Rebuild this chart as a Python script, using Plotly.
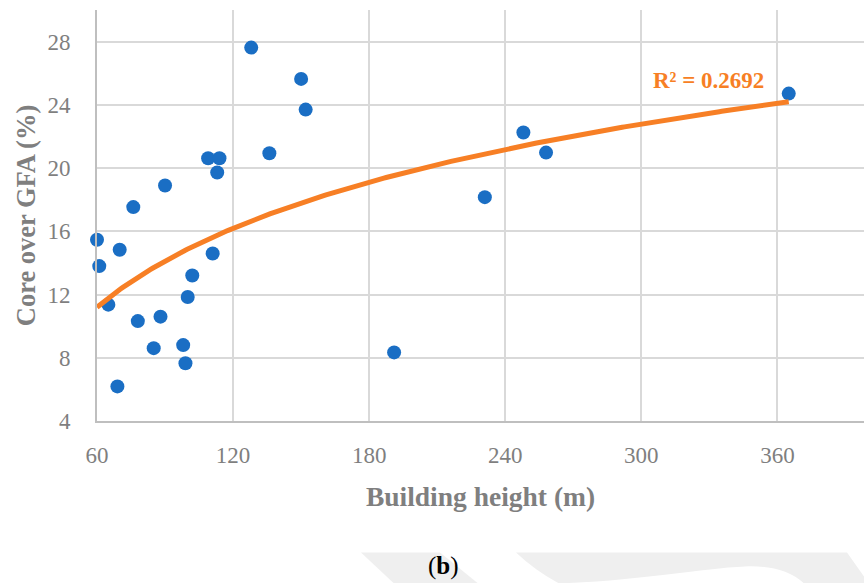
import numpy as np
import plotly.graph_objects as go

# Data
building_height_m = [60, 61, 65, 70, 76, 69, 78, 85, 88, 90, 98, 99, 100, 102,
                     109, 114, 113, 111, 128, 136, 150, 152, 191, 231, 248, 258, 365]
core_over_gfa_pct = [15.47, 13.8, 11.36, 14.83, 17.53, 6.19, 10.32, 8.61, 10.6, 18.9,
                     8.8, 7.65, 11.84, 13.2, 20.62, 20.62, 19.72, 14.6, 27.62, 20.94,
                     25.64, 23.7, 8.34, 18.16, 22.25, 20.98, 24.71]
x_ticks = [60, 120, 180, 240, 300, 360]
y_ticks = [4, 8, 12, 16, 20, 24, 28]
r2_label = "R² = 0.2692"
# logarithmic trendline y = a*ln(x) + b
trend_a = 7.2
trend_b = -18.28

x = np.array(building_height_m, dtype=float)
xt = np.linspace(x.min(), x.max(), 300)
yt = trend_a * np.log(xt) + trend_b

BLUE = "#1a6ec4"
ORANGE = "#f77f25"
GRAY = "#7f7f7f"
FONT = "Liberation Serif"

# plot-area pixel geometry
L, R, T, B = 97, 864, 10, 420.7
def px(p):
    return (p - L) / (R - L)
def py(p):
    return (B - p) / (B - T)

fig = go.Figure()
fig.add_trace(go.Scatter(x=building_height_m, y=core_over_gfa_pct, mode="markers",
                         marker=dict(size=14, color=BLUE), showlegend=False,
                         cliponaxis=False))
fig.add_trace(go.Scatter(x=xt, y=yt, mode="lines",
                         line=dict(color=ORANGE, width=5), showlegend=False))

fig.add_annotation(x=329.8, y=25.53, xref="x", yref="y", text="<b>%s</b>" % r2_label,
                   showarrow=False, font=dict(family=FONT, size=23, color=ORANGE))

fig.add_annotation(x=px(443), y=py(566), xref="paper", yref="paper", text="(<b>b</b>)",
                   xanchor="center", yanchor="middle",
                   showarrow=False, font=dict(family=FONT, size=25, color="black"))

# MDPI-like watermark shapes (decorative)
WT = 552
left_band = "M %f,%f L %f,%f L %f,%f L %f,%f Z" % (
    px(361), py(WT), px(440), py(WT), px(478), py(583), px(394), py(583))
right_shape = ("M %f,%f L %f,%f L %f,%f L %f,%f L %f,%f "
               "C %f,%f %f,%f %f,%f C %f,%f %f,%f %f,%f Q %f,%f %f,%f Z" % (
    px(516), py(WT), px(847), py(WT), px(864), py(576), px(864), py(583), px(804), py(583),
    px(790), py(570), px(770), py(565), px(745), py(566),
    px(700), py(568), px(640), py(580), px(559), py(583),
    px(535), py(570), px(516), py(WT)))
fig.add_shape(type="path", path=left_band, xref="paper", yref="paper",
              fillcolor="#efefef", line=dict(width=0), layer="below")
fig.add_shape(type="path", path=right_shape, xref="paper", yref="paper",
              fillcolor="#efefef", line=dict(width=0), layer="below")

fig.update_layout(
    width=864, height=583,
    margin=dict(l=L, r=0, t=T, b=583 - B),
    paper_bgcolor="white", plot_bgcolor="white",
    font=dict(family=FONT, color=GRAY),
    xaxis=dict(range=[60, 60 + (R - L) / 2.268], tickvals=x_ticks,
               showgrid=True, gridcolor="#d9d9d9", gridwidth=1.5,
               showline=True, linecolor="#bfbfbf", linewidth=2,
               zeroline=False, ticks="", ticklabelstandoff=12,
               tickfont=dict(family=FONT, size=23, color=GRAY),
               title=dict(text="<b>Building height (m)</b>", standoff=20,
                          font=dict(family=FONT, size=27.5, color=GRAY))),
    yaxis=dict(range=[4, 30], tickvals=y_ticks,
               showgrid=True, gridcolor="#d9d9d9", gridwidth=1.5,
               showline=True, linecolor="#bfbfbf", linewidth=2,
               zeroline=False, ticks="", ticklabelstandoff=20,
               tickfont=dict(family=FONT, size=23, color=GRAY),
               title=dict(text="<b>Core over GFA (%)</b>", standoff=4,
                          font=dict(family=FONT, size=26.5, color=GRAY))),
)

fig.write_html("out.html", config={"displayModeBar": False})
